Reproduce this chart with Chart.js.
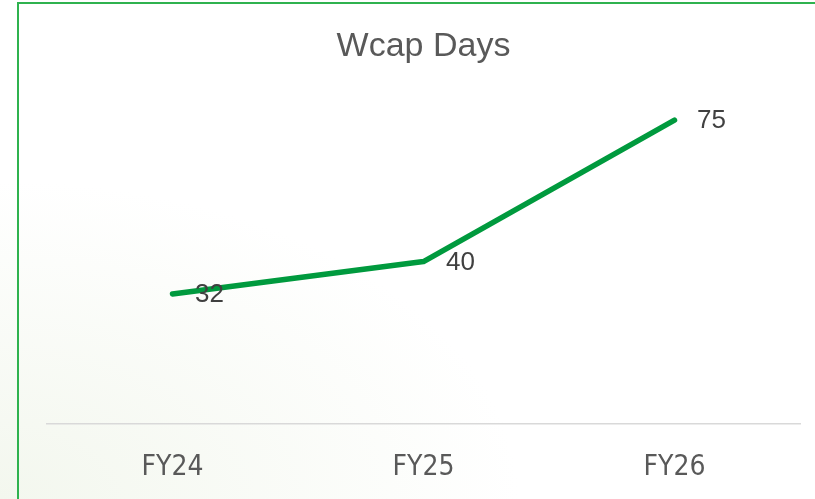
<!DOCTYPE html>
<html>
<head>
<meta charset="utf-8">
<script src="https://cdn.jsdelivr.net/npm/chart.js@4"></script>
<style>
  html, body { margin: 0; padding: 0; background: #fff; }
  #wrap { position: relative; width: 815px; height: 499px; overflow: hidden;
    background: radial-gradient(ellipse at 0% 100%, #f3f7ee 0%, #ffffff 45%); }
  #frame { position: absolute; left: 17px; top: 2px; right: -5px; bottom: -5px;
    border-left: 2px solid #2fb24f; border-top: 2px solid #2fb24f; pointer-events: none; }
  canvas { position: absolute; left: 0; top: 0; }
</style>
</head>
<body>
<div id="wrap">
  <!-- canvas a bit taller than the window so the axis labels land where they should -->
  <canvas id="chart" width="815" height="513"></canvas>
  <div id="frame"></div>
</div>
<script>
// data
const years = ['FY24', 'FY25', 'FY26'];
const wcapDays = [32, 40, 75];

// value labels to the right of each point
const valueLabels = {
  id: 'valueLabels',
  afterDatasetsDraw(chart) {
    const ctx = chart.ctx;
    const meta = chart.getDatasetMeta(0);
    ctx.save();
    ctx.font = '26px "Liberation Sans", Arial, sans-serif';
    ctx.fillStyle = '#404040';
    ctx.textAlign = 'center';
    ctx.textBaseline = 'middle';
    meta.data.forEach((pt, i) => {
      ctx.fillText(String(wcapDays[i]), pt.x + 37, pt.y + 1);
    });
    ctx.restore();
  }
};

new Chart(document.getElementById('chart'), {
  type: 'line',
  data: {
    labels: years,
    datasets: [{
      label: 'Wcap Days',
      data: wcapDays,
      borderColor: '#009a3e',
      borderWidth: 5.5,
      borderCapStyle: 'round',
      borderJoinStyle: 'round',
      pointRadius: 0,
      tension: 0,
      fill: false
    }]
  },
  options: {
    responsive: false,
    animation: false,
    layout: { padding: { left: 47, right: 15, top: 0, bottom: 0 } },
    plugins: {
      legend: { display: false },
      tooltip: { enabled: false },
      title: {
        display: true,
        text: 'Wcap Days',
        color: '#595959',
        font: { family: '"Liberation Sans", Arial, sans-serif', size: 34, weight: 'normal', lineHeight: 1.2 },
        padding: { top: 26, bottom: 33 }
      }
    },
    scales: {
      x: {
        offset: true,
        grid: { display: false, drawTicks: false },
        border: { display: true, color: '#d9d9d9', width: 1.5 },
        ticks: {
          color: '#595959',
          padding: 28,
          font: { family: '"Liberation Sans Narrow", "DejaVu Sans Condensed", sans-serif', size: 28, lineHeight: 1.2 }
        }
      },
      y: {
        display: false,
        min: 0,
        max: 80
      }
    }
  },
  plugins: [valueLabels]
});
</script>
</body>
</html>
